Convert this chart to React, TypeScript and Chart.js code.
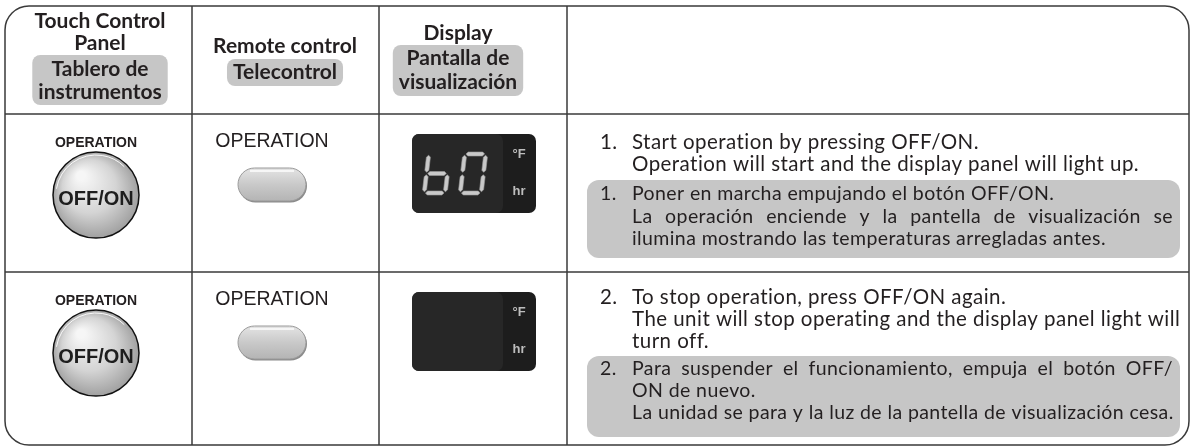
import { useEffect, useRef } from "react";
import { Chart, registerables } from "chart.js";

Chart.register(...registerables);

// ---------------- data ----------------
const headerEnglish = [["Touch Control", "Panel"], ["Remote control"], ["Display"]];
const headerSpanish = [["Tablero de", "instrumentos"], ["Telecontrol"], ["Pantalla de", "visualización"]];
const touchPanelLabels = ["OPERATION", "OPERATION"];
const touchPanelButtons = ["OFF/ON", "OFF/ON"];
const remoteLabels = ["OPERATION", "OPERATION"];
const displayReadings = ["b0", ""];
const displayUnits = ["°F", "hr"];
const stepNumbers = ["1.", "2."];
const stepEnglish = [
  ["Start operation by pressing OFF/ON.", "Operation will start and the display panel will light up."],
  ["To stop operation, press OFF/ON again.", "The unit will stop operating and the display panel light will", "turn off."],
];
const stepSpanish = [
  ["Poner en marcha empujando el botón OFF/ON.", "La operación enciende y la pantella de visualización se", "ilumina mostrando las temperaturas arregladas antes."],
  ["Para suspender el funcionamiento, empuja el botón OFF/", "ON de nuevo.", "La unidad se para y la luz de la pantella de visualización cesa."],
];
const spanishJustified = [[false, true, false], [true, false, false]];

// ---------------- layout / style ----------------
const W = 1193;
const H = 448;
const LAYOUT = {
  border: { x0: 5, x1: 1189, y0: 6, y1: 445, r: 24 },
  colLines: [192, 379, 567],
  rowLines: [114, 272],
  rowTops: [114, 272],
  headerCenters: [100, 285, 458],
  headerEnY: [[21, 43], [46], [33]],
  headerEsY: [[69, 92], [72], [58, 82]],
  headerPillY: [[55, 105], [59, 86], [45, 96]],
  touch: { cx: 96, labelDy: 29, circleDy: 81, r: 43 },
  remote: { cx: 272, labelDy: 28, btnDy0: 54, btnH: 33, btnW: 68 },
  display: { x0: 412, x1: 536, dy0: 20, h: 79, innerW: 91, digitX: 422, digitStep: 36, digitDy: 38, digitW: 25, digitH: 43 },
  steps: {
    numX: 600, textX: 632, rightX: 1173, pillX0: 587, pillX1: 1180,
    enY: [[142, 164], [297, 319, 341]],
    esY: [[194, 217, 239], [369, 391, 413]],
    pillY: [[180, 258], [356, 437]],
  },
};
const INK = "#231f20";
const PILL = "#c6c6c6";
const LINE = "#3a3a3a";
const HUMANIST = "Lato, 'Open Sans', sans-serif";
const GROTESK = "'Liberation Sans', Arial, sans-serif";

function rr(ctx: CanvasRenderingContext2D, x0: number, y0: number, x1: number, y1: number, r: number) {
  const rad = Math.min(r, (x1 - x0) / 2, (y1 - y0) / 2);
  ctx.beginPath();
  ctx.moveTo(x0 + rad, y0);
  ctx.lineTo(x1 - rad, y0);
  ctx.arcTo(x1, y0, x1, y0 + rad, rad);
  ctx.lineTo(x1, y1 - rad);
  ctx.arcTo(x1, y1, x1 - rad, y1, rad);
  ctx.lineTo(x0 + rad, y1);
  ctx.arcTo(x0, y1, x0, y1 - rad, rad);
  ctx.lineTo(x0, y0 + rad);
  ctx.arcTo(x0, y0, x0 + rad, y0, rad);
  ctx.closePath();
}

const SEGMENTS: Record<string, string> = {
  "0": "abcdef",
  "1": "bc",
  b: "cdefg",
};

function drawDigit(ctx: CanvasRenderingContext2D, ch: string, ox: number, oy: number, w: number, h: number) {
  const t = 4;
  const g = 1.2;
  const slant = 5;
  const segs = SEGMENTS[ch] || "";
  const tf = (x: number, y: number): [number, number] => [ox + x + slant * (1 - y / h), oy + y];
  const hor = (yc: number, x0: number, x1: number) => [
    [x0, yc], [x0 + t / 2, yc - t / 2], [x1 - t / 2, yc - t / 2], [x1, yc], [x1 - t / 2, yc + t / 2], [x0 + t / 2, yc + t / 2],
  ];
  const ver = (xc: number, y0: number, y1: number) => [
    [xc, y0], [xc + t / 2, y0 + t / 2], [xc + t / 2, y1 - t / 2], [xc, y1], [xc - t / 2, y1 - t / 2], [xc - t / 2, y0 + t / 2],
  ];
  const shapes: Record<string, number[][]> = {
    a: hor(t / 2, t / 2 + g, w - t / 2 - g),
    g: hor(h / 2, t / 2 + g, w - t / 2 - g),
    d: hor(h - t / 2, t / 2 + g, w - t / 2 - g),
    f: ver(t / 2, t / 2 + g, h / 2 - g),
    e: ver(t / 2, h / 2 + g, h - t / 2 - g),
    b: ver(w - t / 2, t / 2 + g, h / 2 - g),
    c: ver(w - t / 2, h / 2 + g, h - t / 2 - g),
  };
  for (const s of segs) {
    const pts = shapes[s];
    ctx.beginPath();
    pts.forEach((p, i) => {
      const [px, py] = tf(p[0], p[1]);
      if (i === 0) ctx.moveTo(px, py);
      else ctx.lineTo(px, py);
    });
    ctx.closePath();
    ctx.fillStyle = "#c9c9c9";
    ctx.fill();
    ctx.strokeStyle = "#9a9a9a";
    ctx.lineWidth = 0.6;
    ctx.stroke();
  }
}

function drawJustified(ctx: CanvasRenderingContext2D, text: string, x: number, y: number, right: number) {
  const words = text.split(" ");
  const widths = words.map((w) => ctx.measureText(w).width);
  const total = widths.reduce((a, b) => a + b, 0);
  const gap = words.length > 1 ? (right - x - total) / (words.length - 1) : 0;
  let cx = x;
  words.forEach((w, i) => {
    ctx.fillText(w, cx, y);
    cx += widths[i] + gap;
  });
}

const tablePlugin = {
  id: "manualTable",
  afterDraw(chart: any) {
    const ctx: any = chart.ctx;
    const X = (v: number) => chart.scales.x.getPixelForValue(v);
    const Y = (v: number) => chart.scales.y.getPixelForValue(v);
    const L = LAYOUT;
    ctx.save();
    ctx.fillStyle = "#ffffff";
    ctx.fillRect(0, 0, chart.width, chart.height);

    // ---- header pills and text ----
    ctx.textAlign = "center";
    ctx.textBaseline = "middle";
    ctx.font = `bold 21px ${HUMANIST}`;
    headerSpanish.forEach((lines, i) => {
      const cx = L.headerCenters[i];
      const wMax = Math.max(...lines.map((s) => ctx.measureText(s).width));
      const [py0, py1] = L.headerPillY[i];
      rr(ctx, X(cx - wMax / 2 - 6), Y(py0), X(cx + wMax / 2 + 6), Y(py1), 8);
      ctx.fillStyle = PILL;
      ctx.fill();
    });
    ctx.fillStyle = INK;
    headerEnglish.forEach((lines, i) => {
      lines.forEach((s, j) => ctx.fillText(s, X(L.headerCenters[i]), Y(L.headerEnY[i][j])));
    });
    headerSpanish.forEach((lines, i) => {
      lines.forEach((s, j) => ctx.fillText(s, X(L.headerCenters[i]), Y(L.headerEsY[i][j])));
    });

    // ---- step pills ----
    const S = L.steps;
    S.pillY.forEach(([a, b]) => {
      rr(ctx, X(S.pillX0), Y(a), X(S.pillX1), Y(b), 12);
      ctx.fillStyle = PILL;
      ctx.fill();
    });

    // ---- grid ----
    ctx.strokeStyle = LINE;
    ctx.lineWidth = 1.5;
    const B = L.border;
    rr(ctx, X(B.x0), Y(B.y0), X(B.x1), Y(B.y1), B.r);
    ctx.stroke();
    L.colLines.forEach((c) => {
      ctx.beginPath();
      ctx.moveTo(X(c), Y(B.y0));
      ctx.lineTo(X(c), Y(B.y1));
      ctx.stroke();
    });
    L.rowLines.forEach((r) => {
      ctx.beginPath();
      ctx.moveTo(X(B.x0), Y(r));
      ctx.lineTo(X(B.x1), Y(r));
      ctx.stroke();
    });

    // ---- step text ----
    ctx.textAlign = "left";
    ctx.fillStyle = INK;
    ctx.font = `20.5px ${HUMANIST}`;
    ctx.letterSpacing = "0.45px";
    stepEnglish.forEach((lines, i) => {
      ctx.fillText(stepNumbers[i], X(S.numX), Y(S.enY[i][0]));
      lines.forEach((s, j) => ctx.fillText(s, X(S.textX), Y(S.enY[i][j])));
    });
    ctx.font = `19.5px ${HUMANIST}`;
    ctx.letterSpacing = "0.4px";
    stepSpanish.forEach((lines, i) => {
      ctx.fillText(stepNumbers[i], X(S.numX), Y(S.esY[i][0]));
      lines.forEach((s, j) => {
        if (spanishJustified[i][j]) drawJustified(ctx, s, X(S.textX), Y(S.esY[i][j]), X(S.rightX));
        else ctx.fillText(s, X(S.textX), Y(S.esY[i][j]));
      });
    });
    ctx.letterSpacing = "0px";

    // ---- per-row controls ----
    L.rowTops.forEach((top, i) => {
      // touch panel
      const T = L.touch;
      ctx.textAlign = "center";
      ctx.fillStyle = INK;
      ctx.font = `bold 14px ${GROTESK}`;
      ctx.fillText(touchPanelLabels[i], X(T.cx), Y(top + T.labelDy));
      const cx = X(T.cx);
      const cy = Y(top + T.circleDy);
      const r = T.r;
      const grad = ctx.createRadialGradient(cx - r * 0.35, cy - r * 0.45, r * 0.1, cx, cy, r * 1.05);
      grad.addColorStop(0, "#f6f6f6");
      grad.addColorStop(0.55, "#d4d4d4");
      grad.addColorStop(1, "#9c9c9c");
      ctx.beginPath();
      ctx.arc(cx, cy, r, 0, Math.PI * 2);
      ctx.fillStyle = grad;
      ctx.fill();
      ctx.lineWidth = 1.5;
      ctx.strokeStyle = "#111";
      ctx.stroke();
      ctx.beginPath();
      ctx.arc(cx, cy, r - 3, Math.PI * 1.05, Math.PI * 1.75);
      ctx.strokeStyle = "rgba(255,255,255,0.9)";
      ctx.lineWidth = 1;
      ctx.stroke();
      ctx.fillStyle = "#1e1e1e";
      ctx.font = `bold 20px ${GROTESK}`;
      ctx.fillText(touchPanelButtons[i], cx, cy + 4);

      // remote control
      const R = L.remote;
      ctx.fillStyle = INK;
      ctx.font = `19.5px ${GROTESK}`;
      ctx.fillText(remoteLabels[i], X(R.cx), Y(top + R.labelDy));
      const bx0 = X(R.cx - R.btnW / 2);
      const bx1 = X(R.cx + R.btnW / 2);
      const by0 = Y(top + R.btnDy0);
      const by1 = Y(top + R.btnDy0 + R.btnH);
      rr(ctx, bx0 + 1, by0 + 1.5, bx1 + 1, by1 + 1.5, R.btnH / 2);
      ctx.fillStyle = "#8a8a8a";
      ctx.fill();
      const lg = ctx.createLinearGradient(0, by0, 0, by1);
      lg.addColorStop(0, "#e4e4e4");
      lg.addColorStop(0.5, "#c9c9c9");
      lg.addColorStop(1, "#b4b4b4");
      rr(ctx, bx0, by0, bx1, by1, R.btnH / 2);
      ctx.fillStyle = lg;
      ctx.fill();
      ctx.strokeStyle = "#9a9a9a";
      ctx.lineWidth = 1;
      ctx.stroke();
      ctx.beginPath();
      ctx.moveTo(bx0 + 12, by0 + 3);
      ctx.lineTo(bx1 - 12, by0 + 3);
      ctx.strokeStyle = "rgba(255,255,255,0.95)";
      ctx.lineWidth = 1.5;
      ctx.stroke();

      // display
      const D = L.display;
      const dy0 = Y(top + D.dy0);
      const dy1 = Y(top + D.dy0 + D.h);
      rr(ctx, X(D.x0), dy0, X(D.x1), dy1, 7);
      ctx.fillStyle = "#1d1d1d";
      ctx.fill();
      rr(ctx, X(D.x0), dy0, X(D.x0 + D.innerW), dy1, 7);
      ctx.fillStyle = "#272727";
      ctx.fill();
      ctx.fillStyle = "#bdbdbd";
      ctx.font = `bold 13px ${GROTESK}`;
      ctx.fillText(displayUnits[0], X(D.x0 + 107), Y(top + D.dy0 + 20));
      ctx.fillText(displayUnits[1], X(D.x0 + 107), Y(top + D.dy0 + 57));
      displayReadings[i].split("").forEach((ch, k) => {
        drawDigit(ctx, ch, X(D.digitX + k * D.digitStep), Y(top + D.digitDy), D.digitW, D.digitH);
      });
    });
    ctx.restore();
  },
};

export default function App() {
  const ref = useRef<HTMLCanvasElement | null>(null);
  useEffect(() => {
    document.body.style.margin = "0";
    const canvas = ref.current;
    if (!canvas) return;
    const chart = new Chart(canvas, {
      type: "scatter",
      data: { datasets: [] },
      options: {
        responsive: false,
        animation: false,
        events: [],
        layout: { padding: 0 },
        plugins: { legend: { display: false }, tooltip: { enabled: false } },
        scales: {
          x: { type: "linear", min: 0, max: W, display: false },
          y: { type: "linear", min: 0, max: H, reverse: true, display: false },
        },
      },
      plugins: [tablePlugin],
    } as any);
    return () => chart.destroy();
  }, []);
  return <canvas ref={ref} width={W} height={H} style={{ display: "block" }} />;
}
